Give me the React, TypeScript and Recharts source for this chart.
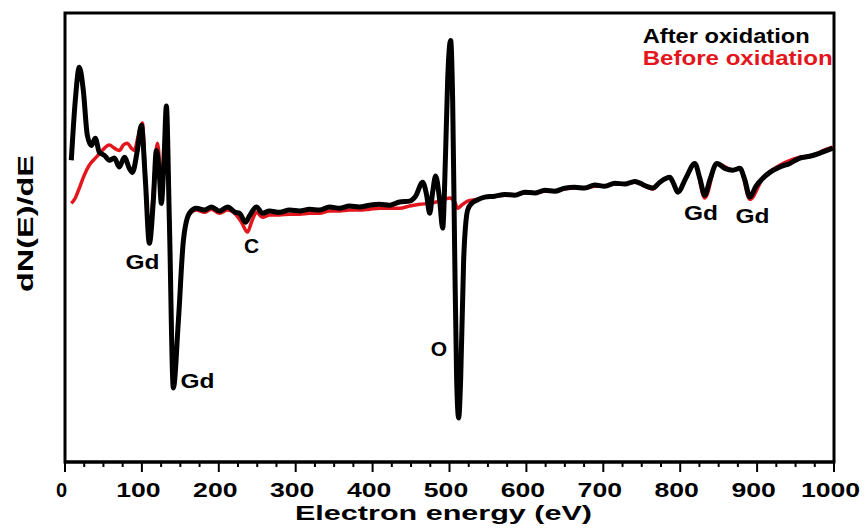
import React from 'react';
import { LineChart, Line, XAxis, YAxis, ReferenceArea, ReferenceDot } from 'recharts';

// energy (eV) and dN(E)/dE (arb. units, 0-100 window)
const afterEnergy = [
  8.2, 13.4, 18.6, 23.8, 29.0, 34.2, 39.4, 44.6, 51.2, 57.7, 64.2, 70.7, 77.2, 83.7, 87.6, 94.1,
  99.3, 104.5, 109.7, 114.9, 118.8, 122.7, 125.3, 129.2, 131.8, 135.7, 140.9, 147.5, 154.0, 161.8,
  170.9, 181.3, 190.5, 200.9, 211.3, 221.7, 226.9, 234.7, 239.9, 249.0, 256.8, 266.0, 279.0, 292.0,
  305.0, 318.0, 331.0, 344.0, 357.0, 370.0, 383.1, 396.1, 409.1, 422.1, 435.1, 448.1, 455.9, 465.1,
  470.3, 474.2, 478.1, 482.0, 487.2, 491.1, 495.0, 497.6, 501.5, 504.1, 506.7, 509.3, 511.9, 514.5,
  518.4, 523.6, 528.8, 535.3, 545.8, 558.8, 571.8, 584.8, 597.8, 610.8, 623.8, 636.9, 649.9, 662.9,
  675.9, 688.9, 701.9, 714.9, 727.9, 740.9, 747.5, 756.6, 764.4, 773.5, 786.5, 791.7, 796.9, 807.3,
  819.0, 825.5, 832.0, 838.5, 847.7, 858.1, 868.5, 877.6, 884.1, 890.6, 898.4, 907.5, 916.6, 929.6,
  942.6, 955.6, 968.6, 981.7, 990.8, 998.6,
];
const afterSignal = [
  67.2, 80.6, 87.9, 82.8, 72.8, 70.5, 72.1, 69.0, 68.3, 67.2, 67.7, 65.7, 67.9, 65.4, 64.5, 69.4,
  75.0, 62.8, 48.7, 58.3, 69.4, 63.9, 57.6, 69.4, 79.3, 53.9, 16.5, 31.6, 49.4, 55.4,
  56.5, 56.1, 56.8, 55.9, 56.8, 55.6, 55.4, 53.4, 54.8, 56.8, 55.4, 55.9, 55.6, 56.1,
  55.9, 56.3, 56.1, 56.8, 56.5, 57.0, 56.8, 57.2, 57.4, 57.2, 57.9, 58.1, 59.2, 62.3,
  59.4, 55.4, 60.1, 63.7, 58.3, 52.1, 69.4, 85.0, 93.9, 80.6, 47.2, 18.3, 9.8, 18.3,
  45.0, 56.1, 57.6, 58.3, 59.0, 59.2, 59.6, 59.4, 60.1, 59.9, 60.5, 60.3, 61.0, 61.2,
  61.0, 61.7, 61.4, 62.1, 61.9, 62.5, 62.1, 61.4, 61.0, 62.3, 63.4, 61.9, 60.1, 63.2,
  66.5, 63.2, 59.4, 62.8, 66.5, 65.4, 65.0, 65.4, 62.8, 59.0, 61.4, 63.2, 64.5, 65.7,
  66.5, 67.7, 68.1, 68.8, 69.4, 69.9,
];

const beforeEnergy = [
  8.2, 13.4, 18.6, 25.1, 31.6, 40.7, 48.5, 57.7, 64.2, 70.7, 75.9, 81.1, 86.3, 90.2, 95.4, 100.6,
  104.5, 109.7, 114.9, 120.1, 122.7, 125.3, 129.2, 131.8, 135.7, 140.9, 147.5, 154.0, 161.8, 170.9,
  181.3, 190.5, 200.9, 211.3, 221.7, 229.5, 237.3, 242.5, 249.0, 256.8, 266.0, 279.0, 292.0, 305.0,
  318.0, 331.0, 344.0, 357.0, 370.0, 383.1, 396.1, 409.1, 422.1, 435.1, 448.1, 461.2, 474.2, 487.2,
  500.2, 506.7, 510.6, 515.8, 523.6, 535.3, 545.8, 558.8, 571.8, 584.8, 597.8, 610.8, 623.8, 636.9,
  649.9, 662.9, 675.9, 688.9, 701.9, 714.9, 727.9, 740.9, 747.5, 756.6, 764.4, 773.5, 786.5, 796.9,
  807.3, 819.0, 832.0, 847.7, 868.5, 877.6, 890.6, 907.5, 929.6, 955.6, 975.1, 981.7, 998.6,
];
const beforeSignal = [
  57.6, 58.8, 61.0, 63.9, 66.1, 67.9, 69.4, 70.6, 69.9, 69.4, 70.6, 71.0, 69.9, 69.4, 72.8, 75.5,
  63.9, 49.4, 60.5, 71.0, 67.2, 58.3, 69.4, 77.2, 53.9, 17.1, 31.6, 49.4, 55.2, 56.1,
  55.6, 56.3, 55.4, 56.1, 55.2, 53.4, 51.2, 53.4, 55.6, 54.5, 55.0, 55.0, 55.2, 55.2,
  55.4, 55.4, 55.9, 55.9, 56.1, 56.1, 56.3, 56.5, 56.5, 56.5, 57.0, 57.4, 57.6, 58.1,
  58.8, 57.9, 56.5, 57.2, 58.1, 58.5, 59.0, 59.2, 59.4, 59.4, 59.9, 59.9, 60.3, 60.3,
  60.8, 61.0, 61.0, 61.4, 61.4, 61.9, 61.9, 62.3, 62.1, 61.2, 60.8, 62.3, 63.4, 60.1,
  63.2, 66.3, 58.8, 66.5, 65.0, 65.4, 58.5, 63.2, 66.1, 67.9, 68.3, 69.0, 70.1,
];

const xTicks = [
  0, 25, 50, 75, 100, 125, 150, 175, 200, 225, 250, 275, 300, 325, 350, 375, 400, 425, 450, 475,
  500, 525, 550, 575, 600, 625, 650, 675, 700, 725, 750, 775, 800, 825, 850, 875, 900, 925, 950, 975, 1000,
];

const peakLabels = ['Gd', 'Gd', 'C', 'O', 'Gd', 'Gd'];
const peakEnergy = [100.8, 172.3, 242.5, 486.3, 827, 894];
const peakSignal = [44.7, 18.3, 48.3, 25.4, 55.6, 55.0];

const afterData = afterEnergy.map((e, i) => ({ e, v: afterSignal[i] }));
const beforeData = beforeEnergy.map((e, i) => ({ e, v: beforeSignal[i] }));

const FONT = '"Liberation Sans", Arial, sans-serif';

const EnergyTick = (props: any) => {
  const { x, y, payload } = props;
  const major = payload.value % 100 === 0;
  const label = String(payload.value);
  return (
    <g>
      <line x1={x} x2={x} y1={y} y2={y + (major ? 10 : 5)} stroke="#000" strokeWidth={2} />
      {major && (
        <text
          x={x - 3.5}
          y={y + 35}
          textAnchor="middle"
          fontFamily={FONT}
          fontWeight="bold"
          fontSize={20}
          fill="#000"
          textLength={label.length > 1 ? label.length * 14.8 : undefined}
          lengthAdjust="spacingAndGlyphs"
        >
          {label}
        </text>
      )}
    </g>
  );
};

const PeakLabel = (props: any) => {
  const { viewBox, value } = props;
  return (
    <text
      x={viewBox.x}
      y={viewBox.y + 8}
      textAnchor="middle"
      fontFamily={FONT}
      fontWeight="bold"
      fontSize={21}
      fill="#000"
      textLength={value.length > 1 ? 34 : undefined}
      lengthAdjust="spacingAndGlyphs"
    >
      {value}
    </text>
  );
};

export default function App() {
  return (
    <div style={{ position: 'absolute', left: 0, top: 0, width: 867, height: 530, background: '#fff' }}>
      <LineChart width={867} height={530} margin={{ top: 13, right: 33, bottom: 0, left: 65 }}>
        <XAxis
          type="number"
          dataKey="e"
          domain={[0, 1000]}
          ticks={xTicks}
          interval={0}
          allowDataOverflow
          height={68}
          tickSize={0}
          tickMargin={0}
          tickLine={false}
          axisLine={{ stroke: '#000', strokeWidth: 3 }}
          tick={<EnergyTick />}
          label={{
            content: () => (
              <text
                x={443.5}
                y={520}
                textAnchor="middle"
                fontFamily={FONT}
                fontWeight="bold"
                fontSize={21}
                fill="#000"
                textLength={297}
                lengthAdjust="spacingAndGlyphs"
              >
                Electron energy (eV)
              </text>
            ),
          }}
        />
        <YAxis hide domain={[0, 100]} allowDataOverflow />
        <ReferenceArea x1={0} x2={1000} y1={0} y2={100} fill="none" stroke="#000" strokeWidth={3} />
        <Line
          data={beforeData}
          dataKey="v"
          type="monotone"
          stroke="#e3161d"
          strokeWidth={3.5}
          dot={false}
          isAnimationActive={false}
        />
        <Line
          data={afterData}
          dataKey="v"
          type="monotone"
          stroke="#000"
          strokeWidth={5}
          dot={false}
          isAnimationActive={false}
        />
        {peakLabels.map((t, i) => (
          <ReferenceDot
            key={i}
            x={peakEnergy[i]}
            y={peakSignal[i]}
            r={0}
            fill="none"
            stroke="none"
            label={<PeakLabel value={t} />}
          />
        ))}
        <text
          transform="translate(33,223.5) rotate(-90)"
          textAnchor="middle"
          fontFamily={FONT}
          fontWeight="bold"
          fontSize={22}
          fill="#000"
          textLength={137}
          lengthAdjust="spacingAndGlyphs"
        >
          dN(E)/dE
        </text>
        <text
          x={642.7}
          y={43}
          fontFamily={FONT}
          fontWeight="bold"
          fontSize={19.5}
          fill="#000"
          textLength={167}
          lengthAdjust="spacingAndGlyphs"
        >
          After oxidation
        </text>
        <text
          x={642.7}
          y={65}
          fontFamily={FONT}
          fontWeight="bold"
          fontSize={19.5}
          fill="#e3161d"
          textLength={190}
          lengthAdjust="spacingAndGlyphs"
        >
          Before oxidation
        </text>
      </LineChart>
    </div>
  );
}
